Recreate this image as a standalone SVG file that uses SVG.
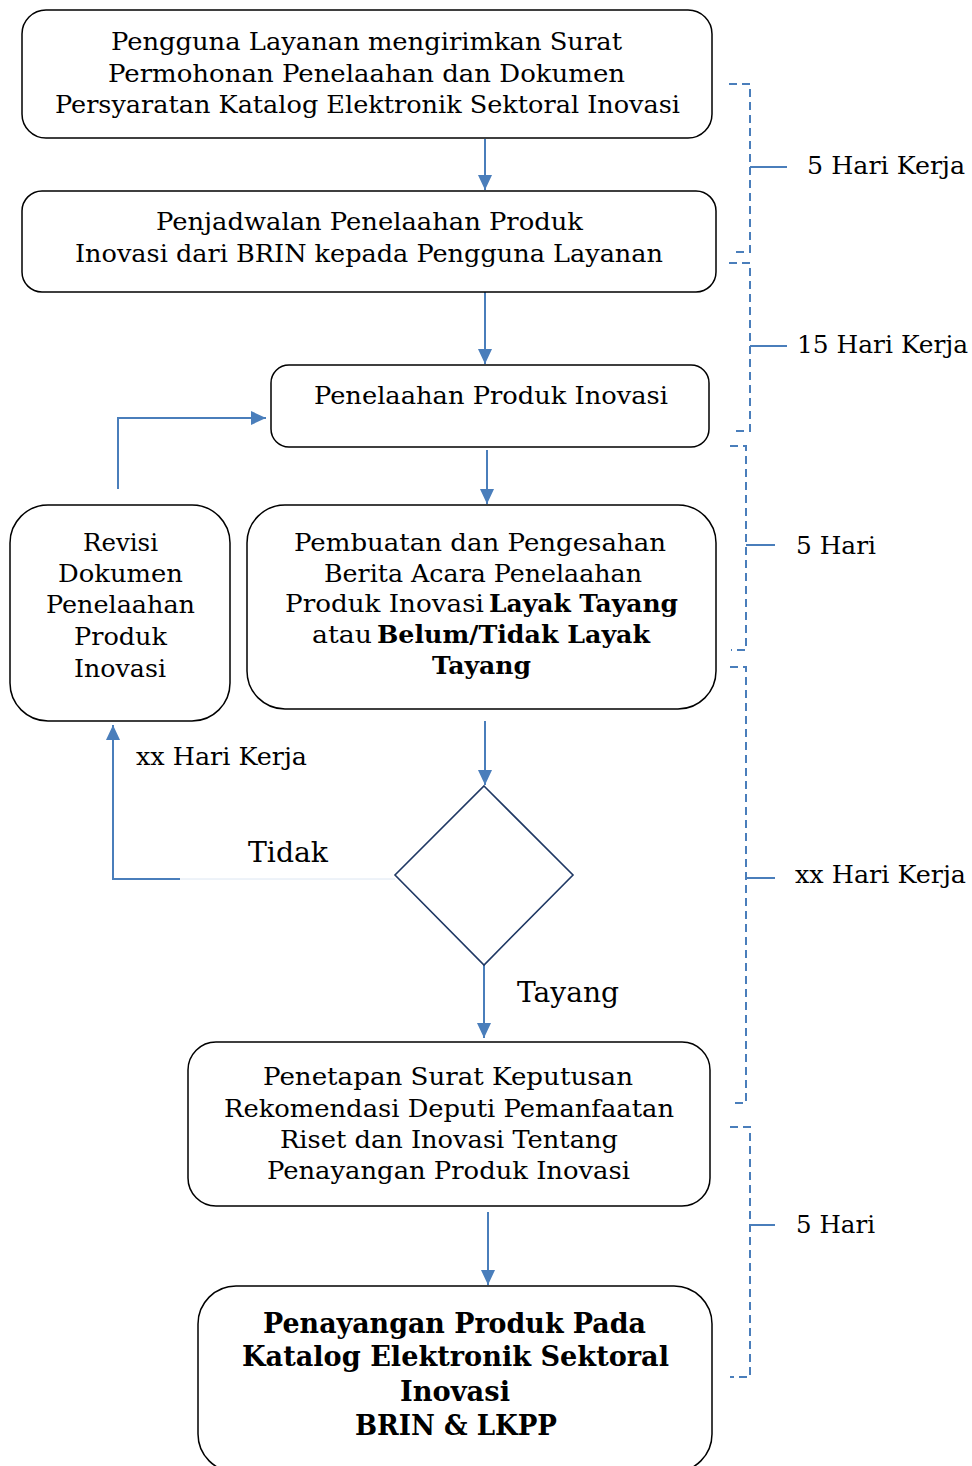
<svg xmlns="http://www.w3.org/2000/svg" width="972" height="1466" viewBox="0 0 972 1466">
<style>
.box{fill:#fff;stroke:#000;stroke-width:1.5}
.dia{fill:#fff;stroke:#1f3864;stroke-width:1.6}
.t{font-family:"DejaVu Serif","Liberation Serif",serif;font-size:25px;fill:#000}
.b{font-family:"DejaVu Serif","Liberation Serif",serif;font-size:25px;font-weight:bold;fill:#000}
.bb{font-family:"DejaVu Serif","Liberation Serif",serif;font-size:27px;font-weight:bold;fill:#000}
.lg{font-family:"DejaVu Serif","Liberation Serif",serif;font-size:28px;fill:#000}
.c{fill:none;stroke:#4a7ebb;stroke-width:2}
.d{fill:none;stroke:#4a7ebb;stroke-width:2;stroke-dasharray:8 5}
.tk{fill:none;stroke:#4a7ebb;stroke-width:2}
</style>
<defs>
<marker id="ah" markerUnits="userSpaceOnUse" markerWidth="16" markerHeight="14" refX="15" refY="7" orient="auto">
<path d="M0,0 L15,7 L0,14 z" fill="#4a7ebb"/>
</marker>
</defs>

<g id="connectors">
<path class="c" d="M485,139 V190" marker-end="url(#ah)"/>
<path class="c" d="M485,292 V364" marker-end="url(#ah)"/>
<path class="c" d="M487,450 V504" marker-end="url(#ah)"/>
<path class="c" d="M118,489 V418 H266" marker-end="url(#ah)"/>
<path class="c" d="M485,721 V785" marker-end="url(#ah)"/>
<path d="M180,879 H395" fill="none" stroke="#dce6f2" stroke-width="1"/>
<path class="c" d="M180,879 H113 V725" marker-end="url(#ah)"/>
<path class="c" d="M484,965 V1038" marker-end="url(#ah)"/>
<path class="c" d="M488,1212 V1285" marker-end="url(#ah)"/>
</g>

<g id="brackets">
<path class="d" d="M729,84 H750 V252 H733"/>
<path class="tk" d="M750,167 H787"/>
<path class="d" d="M729,263 H750 V431 H733"/>
<path class="tk" d="M750,346 H787"/>
<path class="d" d="M730,446 H746 V650 H731"/>
<path class="tk" d="M746,545 H775"/>
<path class="d" d="M730,667 H746 V1103 H730"/>
<path class="tk" d="M746,878 H775"/>
<path class="d" d="M730,1127 H750 V1377 H730"/>
<path class="tk" d="M750,1225 H775"/>
<text class="t" x="807" y="174" textLength="158" lengthAdjust="spacingAndGlyphs">5 Hari Kerja</text>
<text class="t" x="797" y="353" textLength="171" lengthAdjust="spacingAndGlyphs">15 Hari Kerja</text>
<text class="t" x="796" y="554" textLength="80" lengthAdjust="spacingAndGlyphs">5 Hari</text>
<text class="t" x="795" y="883" textLength="171" lengthAdjust="spacingAndGlyphs">xx Hari Kerja</text>
<text class="t" x="796" y="1233" textLength="79" lengthAdjust="spacingAndGlyphs">5 Hari</text>
</g>

<g id="n1">
<rect class="box" x="22" y="10" width="690" height="128" rx="24"/>
<text class="t" x="111" y="50" textLength="511" lengthAdjust="spacingAndGlyphs">Pengguna Layanan mengirimkan Surat</text>
<text class="t" x="108" y="82" textLength="517" lengthAdjust="spacingAndGlyphs">Permohonan Penelaahan dan Dokumen</text>
<text class="t" x="55" y="113" textLength="625" lengthAdjust="spacingAndGlyphs">Persyaratan Katalog Elektronik Sektoral Inovasi</text>
</g>

<g id="n2">
<rect class="box" x="22" y="191" width="694" height="101" rx="20"/>
<text class="t" x="156" y="230" textLength="427" lengthAdjust="spacingAndGlyphs">Penjadwalan Penelaahan Produk</text>
<text class="t" x="75" y="262" textLength="588" lengthAdjust="spacingAndGlyphs">Inovasi dari BRIN kepada Pengguna Layanan</text>
</g>

<g id="n3">
<rect class="box" x="271" y="365" width="438" height="82" rx="18"/>
<text class="t" x="314" y="404" textLength="354" lengthAdjust="spacingAndGlyphs">Penelaahan Produk Inovasi</text>
</g>

<g id="n4">
<rect class="box" x="10" y="505" width="220" height="216" rx="38"/>
<text class="t" x="83" y="551" textLength="75" lengthAdjust="spacingAndGlyphs">Revisi</text>
<text class="t" x="58" y="582" textLength="125" lengthAdjust="spacingAndGlyphs">Dokumen</text>
<text class="t" x="46" y="613" textLength="149" lengthAdjust="spacingAndGlyphs">Penelaahan</text>
<text class="t" x="74" y="645" textLength="93" lengthAdjust="spacingAndGlyphs">Produk</text>
<text class="t" x="74" y="677" textLength="92" lengthAdjust="spacingAndGlyphs">Inovasi</text>
</g>

<g id="n5">
<rect class="box" x="247" y="505" width="469" height="204" rx="38"/>
<text class="t" x="294" y="551" textLength="372" lengthAdjust="spacingAndGlyphs">Pembuatan dan Pengesahan</text>
<text class="t" x="324" y="582" textLength="318" lengthAdjust="spacingAndGlyphs">Berita Acara Penelaahan</text>
<text class="t" x="285" y="612" textLength="199" lengthAdjust="spacingAndGlyphs">Produk Inovasi</text>
<text class="b" x="489" y="612" textLength="189" lengthAdjust="spacingAndGlyphs">Layak Tayang</text>
<text class="t" x="312" y="643" textLength="60" lengthAdjust="spacingAndGlyphs">atau</text>
<text class="b" x="377" y="643" textLength="273" lengthAdjust="spacingAndGlyphs">Belum/Tidak Layak</text>
<text class="b" x="432" y="674" textLength="99" lengthAdjust="spacingAndGlyphs">Tayang</text>
</g>

<g id="decision">
<polygon class="dia" points="484,786 573,875 484,965 395,875"/>
</g>

<g id="labels">
<text class="t" x="136" y="765" textLength="171" lengthAdjust="spacingAndGlyphs">xx Hari Kerja</text>
<text class="lg" x="248" y="862" textLength="80" lengthAdjust="spacingAndGlyphs">Tidak</text>
<text class="lg" x="517" y="1002" textLength="102" lengthAdjust="spacingAndGlyphs">Tayang</text>
</g>

<g id="n6">
<rect class="box" x="188" y="1042" width="522" height="164" rx="28"/>
<text class="t" x="263" y="1085" textLength="370" lengthAdjust="spacingAndGlyphs">Penetapan Surat Keputusan</text>
<text class="t" x="224" y="1117" textLength="450" lengthAdjust="spacingAndGlyphs">Rekomendasi Deputi Pemanfaatan</text>
<text class="t" x="280" y="1148" textLength="338" lengthAdjust="spacingAndGlyphs">Riset dan Inovasi Tentang</text>
<text class="t" x="267" y="1179" textLength="363" lengthAdjust="spacingAndGlyphs">Penayangan Produk Inovasi</text>
</g>

<g id="n7">
<rect class="box" x="198" y="1286" width="514" height="186" rx="38"/>
<text class="bb" x="263" y="1333" textLength="383" lengthAdjust="spacingAndGlyphs">Penayangan Produk Pada</text>
<text class="bb" x="242" y="1366" textLength="427" lengthAdjust="spacingAndGlyphs">Katalog Elektronik Sektoral</text>
<text class="bb" x="400" y="1401" textLength="110" lengthAdjust="spacingAndGlyphs">Inovasi</text>
<text class="bb" x="355" y="1435" textLength="202" lengthAdjust="spacingAndGlyphs">BRIN &amp; LKPP</text>
</g>
</svg>
